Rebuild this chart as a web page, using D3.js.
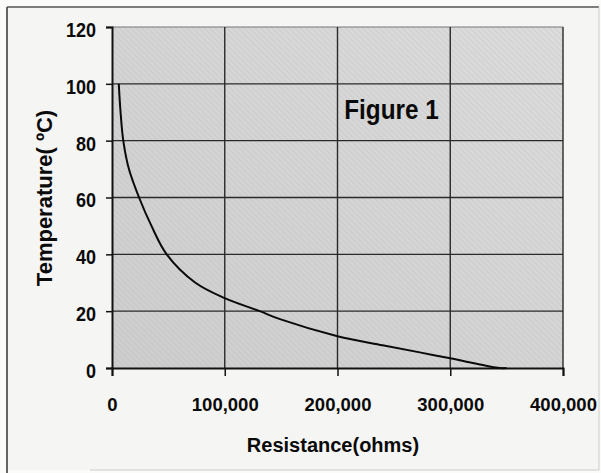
<!DOCTYPE html>
<html>
<head>
<meta charset="utf-8">
<script src="https://cdn.jsdelivr.net/npm/d3@7/dist/d3.min.js"></script>
<style>
  html, body { margin: 0; padding: 0; background: #fbfbf9; }
  svg { display: block; }
  text { font-family: "Liberation Sans", Arial, sans-serif; font-weight: bold; fill: #0a0a0a; }
</style>
</head>
<body>
<svg id="chart" width="601" height="473"></svg>
<script>
// ---- data ----
const resistance = [6000, 7600, 10000, 15000, 24000, 35000, 48500, 74000, 100000, 131000, 149000, 200000, 240000, 273000, 300000, 344000, 350000];
const temperature = [100, 90, 80, 70, 60, 50, 40, 30, 24.6, 20, 17.2, 11.2, 8.0, 5.5, 3.4, 0, 0];
const xTicks = [0, 100000, 200000, 300000, 400000];
const yTicks = [0, 20, 40, 60, 80, 100, 120];
const xTitle = "Resistance(ohms)";
const yTitle = "Temperature( ºC)";
const annotation = "Figure 1";

const svg = d3.select("#chart");
const W = 601, H = 473;

// horizontally condense a text element (scanned font is narrower than Arial)
function condense(sel, k) {
  sel.each(function () {
    const w = this.getComputedTextLength();
    d3.select(this).attr("textLength", w * k).attr("lengthAdjust", "spacingAndGlyphs");
  });
}

// page / frame
svg.append("rect").attr("x", 0).attr("y", 0).attr("width", W).attr("height", H).attr("fill", "#fbfbf9");
svg.append("rect").attr("x", 7).attr("y", 7).attr("width", 592).attr("height", 463).attr("fill", "#f5f5f3");
svg.append("line").attr("x1", 7).attr("x2", 7).attr("y1", 7).attr("y2", 473).attr("stroke", "#333").attr("stroke-width", 1.5);
svg.append("line").attr("x1", 7).attr("x2", 599).attr("y1", 7).attr("y2", 7).attr("stroke", "#555").attr("stroke-width", 1.5);
svg.append("line").attr("x1", 599).attr("x2", 599).attr("y1", 7).attr("y2", 470).attr("stroke", "#ccc").attr("stroke-width", 1);
svg.append("line").attr("x1", 90).attr("x2", 599).attr("y1", 470).attr("y2", 470).attr("stroke", "#ccc").attr("stroke-width", 1);

const x = d3.scaleLinear().domain([0, 400000]).range([112, 563]);
const y = d3.scaleLinear().domain([0, 120]).range([368, 27]);

// plot background with hatch texture
const defs = svg.append("defs");
const grad = defs.append("linearGradient").attr("id", "bg").attr("x1", "0").attr("y1", "1").attr("x2", "1").attr("y2", "0");
grad.append("stop").attr("offset", "0").attr("stop-color", "#cdcdcd");
grad.append("stop").attr("offset", "1").attr("stop-color", "#dcdcdc");
const pat = defs.append("pattern").attr("id", "hatch").attr("width", 4).attr("height", 4)
  .attr("patternUnits", "userSpaceOnUse").attr("patternTransform", "rotate(-45)");
pat.append("line").attr("x1", 0).attr("y1", 0).attr("x2", 0).attr("y2", 4)
  .attr("stroke", "#b8b8b8").attr("stroke-width", 1).attr("stroke-opacity", 0.6);

svg.append("rect").attr("x", x(0)).attr("y", y(120))
  .attr("width", x(400000) - x(0)).attr("height", y(0) - y(120)).attr("fill", "url(#bg)");
svg.append("rect").attr("x", x(0)).attr("y", y(120))
  .attr("width", x(400000) - x(0)).attr("height", y(0) - y(120)).attr("fill", "url(#hatch)");

// grid lines
svg.append("g").selectAll("line").data(yTicks.filter(d => d > 0)).join("line")
  .attr("x1", x(0)).attr("x2", x(400000)).attr("y1", d => y(d)).attr("y2", d => y(d))
  .attr("stroke", d => d === 120 ? "#777" : "#2a2a2a").attr("stroke-width", d => d === 120 ? 1 : 1.4);
svg.append("g").selectAll("line").data(xTicks.filter(d => d > 0)).join("line")
  .attr("x1", d => x(d)).attr("x2", d => x(d)).attr("y1", y(0)).attr("y2", y(120))
  .attr("stroke", "#2a2a2a").attr("stroke-width", 1.4);

// axes
const yAxis = svg.append("g").attr("transform", `translate(${x(0)},0)`)
  .call(d3.axisLeft(y).tickValues(yTicks).tickSize(6).tickPadding(10));
const xAxis = svg.append("g").attr("transform", `translate(0,${y(0)})`)
  .call(d3.axisBottom(x).tickValues(xTicks).tickSize(8).tickPadding(22).tickFormat(d3.format(",")));
[yAxis, xAxis].forEach(g => {
  g.select(".domain").attr("stroke", "#111").attr("stroke-width", 2);
  g.selectAll(".tick line").attr("stroke", "#111").attr("stroke-width", 1.5);
  g.selectAll(".tick text").attr("fill", "#0a0a0a")
    .attr("font-family", "'Liberation Sans', Arial, sans-serif").attr("font-weight", "bold");
});
yAxis.selectAll(".tick text").attr("font-size", 20).attr("dy", "0.47em");
condense(yAxis.selectAll(".tick text"), 0.9);
xAxis.selectAll(".tick text").attr("font-size", 18.5);

// curve
const pts = resistance.map((r, i) => [r, temperature[i]]);
svg.append("path").datum(pts)
  .attr("fill", "none").attr("stroke", "#0a0a0a").attr("stroke-width", 2)
  .attr("d", d3.line().x(d => x(d[0])).y(d => y(d[1])).curve(d3.curveCatmullRom.alpha(0.5)));

// annotation
svg.append("text").attr("x", x(206000)).attr("y", y(87.5))
  .attr("font-size", 27).text(annotation).call(condense, 0.9);

// axis titles
svg.append("text").attr("x", 333).attr("y", 452)
  .attr("text-anchor", "middle").attr("font-size", 20).text(xTitle);
svg.append("text").attr("transform", `translate(52,198) rotate(-90)`)
  .attr("text-anchor", "middle").attr("font-size", 22).text(yTitle);
</script>
</body>
</html>
